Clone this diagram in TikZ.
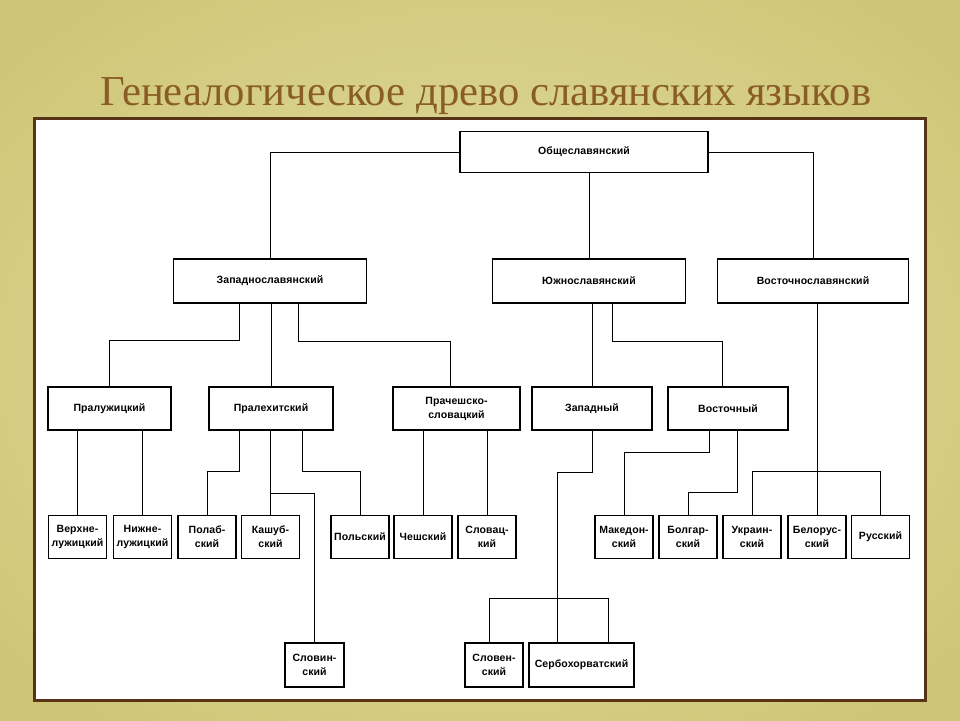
\documentclass[tikz,border=0pt]{standalone}
\usepackage{fontspec}
\setmainfont{Liberation Serif}
\newfontfamily\boxfont[LetterSpace=1]{Liberation Sans}
\usetikzlibrary{positioning, calc}
\definecolor{bgdark}{RGB}{206,198,118}
\definecolor{bglight}{RGB}{228,222,164}
\definecolor{titlebrown}{RGB}{138,93,38}
\definecolor{framebrown}{RGB}{88,52,22}
\tikzstyle{block} = [rectangle, draw, line width=1.1pt, inner sep=0pt, align=center, font=\boxfont\bfseries\fontsize{10.5}{14}\selectfont]
\tikzstyle{mid} = [block, minimum height=43pt]
\tikzstyle{leaf} = [block, minimum width=58pt, minimum height=43pt]
\tikzstyle{link} = [line width=0.9pt]

\begin{document}
\begin{tikzpicture}[x=1pt, y=-1pt]
	\useasboundingbox (0,0) rectangle (960,720);
	\shade[inner color=bglight, outer color=bgdark] (-150,-100) rectangle (1110,820);
	
	\node[text=titlebrown, font=\fontsize{42.7}{42.7}\selectfont, anchor=base] (title) at (486,105) {Генеалогическое древо славянских языков};
	\draw[framebrown, line width=3pt, fill=white] (34.5,118.5) rectangle (925,700);
	
	% top levels
	\node[block, minimum width=248pt, minimum height=41pt] (obshch) at (584,152) {Общеславянский};
	\node[block, minimum width=193pt, minimum height=44pt] (zapsl) at (270,281) {Западнославянский};
	\node[block, minimum width=193pt, minimum height=44pt] (yuzhsl) at (589,281) {Южнославянский};
	\node[block, minimum width=191pt, minimum height=44pt] (vostsl) at (813,281) {Восточнославянский};
	
	\node[mid, minimum width=123pt] (praluzh) at (109.5,408.5) {Пралужицкий};
	\node[mid, minimum width=124pt] (pralekh) at (271,408.5) {Пралехитский};
	\node[mid, minimum width=127pt] (pracz) at (456.5,408.5) {Прачешско-\\словацкий};
	\node[mid, minimum width=120pt] (zapadn) at (592,408.5) {Западный};
	\node[mid, minimum width=120pt] (vostochn) at (728,408.5) {Восточный};
	
	% languages
	\node[leaf] (verhne) at (77.5,537) {Верхне-\\лужицкий};
	\node[leaf] (nizhne) at (142.5,537) {Нижне-\\лужицкий};
	\node[leaf] (polab) at (207,537) {Полаб-\\ский};
	\node[leaf] (kashub) at (270.5,537) {Кашуб-\\ский};
	\node[leaf] (polsk) at (360,537) {Польский};
	\node[leaf] (chesh) at (423,537) {Чешский};
	\node[leaf] (slovac) at (487,537) {Словац-\\кий};
	\node[leaf] (maked) at (624,537) {Македон-\\ский};
	\node[leaf] (bolg) at (688,537) {Болгар-\\ский};
	\node[leaf] (ukr) at (752,537) {Украин-\\ский};
	\node[leaf] (belor) at (817,537) {Белорус-\\ский};
	\node[leaf] (russ) at (880.5,537) {Русский};
	
	\node[leaf, minimum width=59pt, minimum height=44pt] (slovin) at (314.5,665) {Словин-\\ский};
	\node[leaf, minimum height=44pt] (sloven) at (494,665) {Словен-\\ский};
	\node[leaf, minimum width=105pt, minimum height=44pt] (serbo) at (581.5,665) {Сербохорватский};
	
	\draw[link] (obshch.west) -| (zapsl.north);
	\draw[link] (obshch.south -| yuzhsl.north) -- (yuzhsl.north);
	\draw[link] (obshch.east) -| (vostsl.north);
	
	\draw[link] ([xshift=-31pt]zapsl.south) -- ++(0,37) -| (praluzh.north);
	\draw[link] (zapsl.south -| pralekh.north) -- (pralekh.north);
	\draw[link] ([xshift=28pt]zapsl.south) -- ++(0,38) -| ([xshift=-6pt]pracz.north);
	\draw[link] (yuzhsl.south -| zapadn.north) -- (zapadn.north);
	\draw[link] ([xshift=23pt]yuzhsl.south) -- ++(0,38) -| ([xshift=-6pt]vostochn.north);
	\draw[link] (vostsl.south -| belor.north) -- (belor.north);
	\draw[link] (ukr.north) -- ++(0,-44) -| (russ.north);
	
	\draw[link] (praluzh.south -| verhne.north) -- (verhne.north);
	\draw[link] (praluzh.south -| nizhne.north) -- (nizhne.north);
	\draw[link] ([xshift=-32pt]pralekh.south) -- ++(0,41) -| (polab.north);
	\draw[link] (pralekh.south -| kashub.north) -- (kashub.north);
	\draw[link] ($(kashub.north)+(0,-22)$) -| (slovin.north);
	\draw[link] ([xshift=31pt]pralekh.south) -- ++(0,41) -| (polsk.north);
	\draw[link] (pracz.south -| chesh.north) -- (chesh.north);
	\draw[link] (pracz.south -| slovac.north) -- (slovac.north);
	
	\draw[link] (zapadn.south) -- ++(0,41.5) -| ([xshift=-24.5pt]serbo.north);
	\draw[link] ([xshift=-5pt]sloven.north) -- ++(0,-44) -| ([xshift=26.5pt]serbo.north);
	\draw[link] ([xshift=-19pt]vostochn.south) -- ++(0,22) -| (maked.north);
	\draw[link] ([xshift=9pt]vostochn.south) -- ++(0,62) -| (bolg.north);
	
\end{tikzpicture}
\end{document}
